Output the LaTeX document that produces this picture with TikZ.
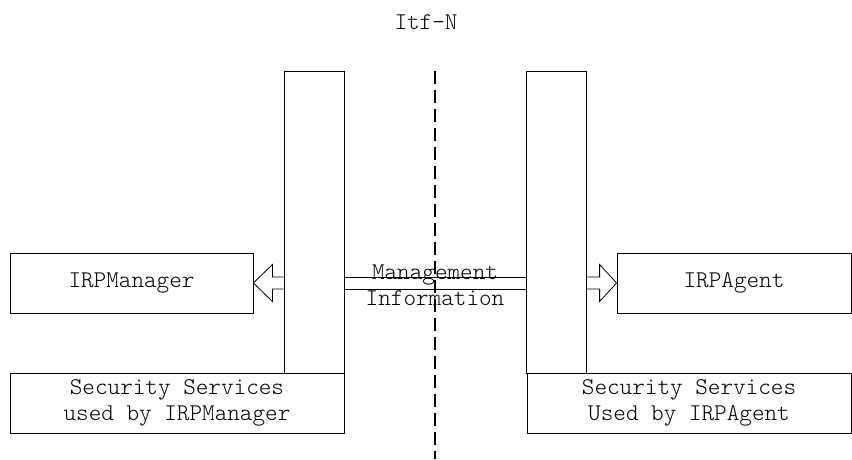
\documentclass[tikz,border=0pt]{standalone}
\usepackage{fontspec}
\setmonofont{Latin Modern Mono Light}
\usetikzlibrary{calc}

\begin{document}
\begin{tikzpicture}[x=1pt,y=1pt,
  box/.style={draw,line width=0.8pt,inner sep=0pt,font=\ttfamily\fontsize{24}{26}\selectfont,align=center},
  lbl/.style={inner sep=0pt,font=\ttfamily\fontsize{24}{26}\selectfont,align=center}]
\useasboundingbox (0,0) rectangle (852,459);
% interface label and split line
\node[lbl] (itf) at (426,437) {Itf-N};
\coordinate (cuttop) at (435,388);
\coordinate (cutbot) at (435,0);
\draw[line width=1.1pt,dash pattern=on 13pt off 6pt] (cuttop) -- (cutbot);
% bars
\node[box,minimum width=60,minimum height=302] (lbar) at (314,237) {};
\node[box,minimum width=60,minimum height=302] (rbar) at (556,237) {};
% managers and agents
\node[box,minimum width=243,minimum height=60] (mgr) at (131.5,176) {IRPManager};
\node[box,minimum width=234,minimum height=60] (agt) at (734,176) {IRPAgent};
% security services
\node[box,minimum width=334,minimum height=60] (secmgr) at (177,56) {Security Services\\used by IRPManager};
\node[box,minimum width=324,minimum height=60] (secagt) at (689,56) {Security Services\\Used by IRPAgent};
% management information channel
\draw[line width=0.8pt] ($(lbar.east|-mgr.east)+(0,6)$) -- ($(rbar.west|-mgr.east)+(0,6)$);
\draw[line width=0.8pt] ($(lbar.east|-mgr.east)+(0,-6)$) -- ($(rbar.west|-mgr.east)+(0,-6)$);
\node[lbl] (info) at (435,174) {Management\\Information};
% hollow arrows
\draw[line width=0.8pt] ($(lbar.west|-mgr.east)+(0,6)$) -- ($(mgr.east)+(19,6)$) -- ($(mgr.east)+(19,18.5)$)
  -- (mgr.east) -- ($(mgr.east)+(19,-18.5)$) -- ($(mgr.east)+(19,-6)$) -- ($(lbar.west|-mgr.east)+(0,-6)$);
\draw[line width=0.8pt] ($(rbar.east|-agt.west)+(0,6)$) -- ($(agt.west)+(-17,6)$) -- ($(agt.west)+(-17,18.5)$)
  -- (agt.west) -- ($(agt.west)+(-17,-18.5)$) -- ($(agt.west)+(-17,-6)$) -- ($(rbar.east|-agt.west)+(0,-6)$);
\end{tikzpicture}
\end{document}
